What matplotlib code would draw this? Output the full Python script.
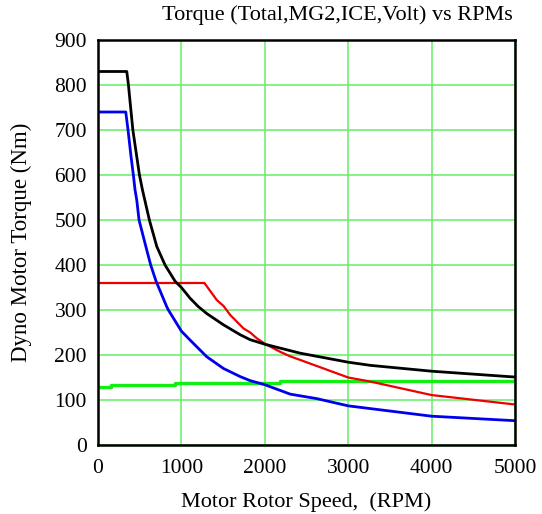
import matplotlib
matplotlib.use("Agg")
import matplotlib.pyplot as plt

# ---- data ----
total_rpm = [0, 345, 365, 418, 497, 533, 616, 705, 804, 924, 1000, 1105, 1200, 1305, 1505,
             1705, 1825, 2000, 2425, 3000, 3265, 4000, 5000]
total_tq = [830, 830, 800, 700, 600, 567, 500, 441, 400, 364, 350, 326, 308, 292, 267,
            245, 234, 224, 204, 184, 177, 164, 151]

mg2_rpm = [0, 333, 360, 396, 424, 444, 465, 492, 585, 632, 696, 825, 844, 1000, 1105,
           1305, 1505, 1705, 1825, 2000, 2305, 2625, 3000, 4000, 5000]
mg2_tq = [740, 740, 700, 641, 600, 567, 544, 500, 433, 400, 364, 307, 300, 253, 233,
          196, 170, 152, 143, 134, 113, 103, 87, 64, 54]

volt_rpm = [0, 1276, 1425, 1505, 1585, 1745, 1825, 1905, 2000, 2185, 2305, 2425,
            3000, 3265, 4000, 5000]
volt_tq = [360, 360, 322, 309, 289, 259, 250, 237, 225, 207, 197, 189,
           150, 141, 111, 90]

ice_rpm = [0, 150, 925, 2177, 5000]
ice_tq = [128, 133, 138, 143, 143]

x_ticks = [0, 1000, 2000, 3000, 4000, 5000]
y_ticks = [0, 100, 200, 300, 400, 500, 600, 700, 800, 900]

plt.rcParams['font.family'] = ['Liberation Serif', 'DejaVu Serif']

fig = plt.figure(figsize=(5.42, 5.14), dpi=100)
ax = fig.add_axes([98/542, 1-445/514, 417/542, 405/514])

ax.set_xlim(0, 5000)
ax.set_ylim(0, 900)
ax.set_xticks(x_ticks)
ax.set_yticks(y_ticks)
ax.grid(True, color='#66ee66', linewidth=1.1)
ax.set_axisbelow(True)
ax.tick_params(length=0, labelsize=15.5)
ax.tick_params(axis='x', pad=10)
ax.tick_params(axis='y', pad=8)

ax.plot(ice_rpm, ice_tq, color='#11ee11', linewidth=2.4, drawstyle='steps-post')
ax.plot(volt_rpm, volt_tq, color='#ee0000', linewidth=1.6)
ax.plot(mg2_rpm, mg2_tq, color='#0000ee', linewidth=2.0)
ax.plot(total_rpm, total_tq, color='black', linewidth=2.0)

for s in ax.spines.values():
    s.set_color('black')
    s.set_linewidth(1.8)

ax.set_xlabel('Motor Rotor Speed,  (RPM)', fontsize=16, labelpad=10)
ax.set_ylabel('Dyno Motor Torque (Nm)', fontsize=16.5, labelpad=16)
fig.text(337/542, 1-15/514, 'Torque (Total,MG2,ICE,Volt) vs RPMs', fontsize=16,
         ha='center', va='center')

fig.savefig('out.png', dpi=100)
